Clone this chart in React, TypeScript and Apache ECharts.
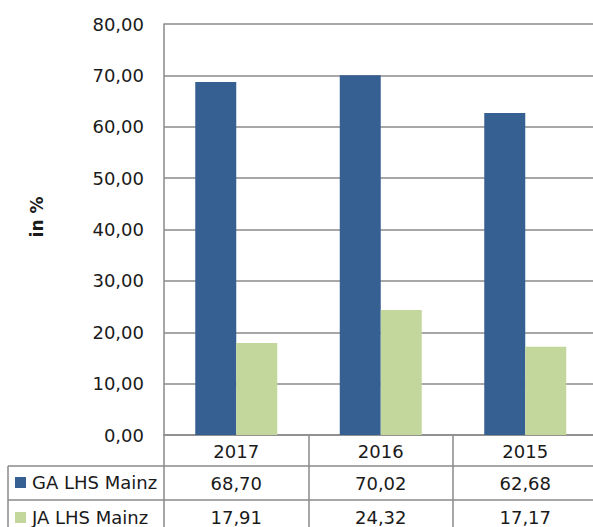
import React, { useEffect, useRef } from "react";
import * as echarts from "echarts";

const categories = ["2017", "2016", "2015"];
const gaValues = [68.7, 70.02, 62.68];
const jaValues = [17.91, 24.32, 17.17];
const seriesNames = ["GA LHS Mainz", "JA LHS Mainz"];
const yMin = 0;
const yMax = 80;
const yInterval = 10;

const fmt = (v: number) => v.toFixed(2).replace(".", ",");
const FONT = "DejaVu Sans";
const GRAY = "#8a8a8a";
const TXT = "#1a1a1a";

export default function App() {
  const ref = useRef<HTMLDivElement>(null);
  useEffect(() => {
    if (!ref.current) return;
    const chart = echarts.init(ref.current, undefined, { renderer: "svg" });
    const valueAxis = (data: number[], offset: number) => ({
      type: "category" as const,
      data: data.map(fmt),
      position: "bottom" as const,
      offset,
      axisLine: { show: false },
      axisTick: { show: false },
      axisLabel: {
        margin: 0,
        verticalAlign: "middle" as const,
        fontFamily: FONT,
        fontSize: 18,
        color: TXT,
      },
    });
    chart.setOption({
      animation: false,
      grid: {
        left: 164,
        top: 24,
        bottom: 92,
        right: -4.5,
        containLabel: false,
        outerBoundsMode: "none",
      },
      legend: {
        orient: "vertical",
        left: 15,
        top: 473.5,
        padding: 0,
        itemWidth: 11,
        itemHeight: 11,
        itemGap: 17,
        icon: "rect",
        textStyle: { fontFamily: FONT, fontSize: 18, lineHeight: 17, color: TXT, padding: [0, 0, 0, 1] },
        data: seriesNames,
      },
      xAxis: [
        {
          type: "category",
          data: categories,
          axisLine: { show: true, lineStyle: { color: GRAY, width: 1.5 } },
          axisTick: { show: true, length: 95, lineStyle: { color: GRAY, width: 1.5 } },
          axisLabel: {
            margin: 16,
            verticalAlign: "middle",
            fontFamily: FONT,
            fontSize: 18,
            color: TXT,
          },
        },
        valueAxis(gaValues, 48),
        valueAxis(jaValues, 82),
      ],
      yAxis: {
        type: "value",
        min: yMin,
        max: yMax,
        interval: yInterval,
        axisLine: { show: true, lineStyle: { color: GRAY, width: 1.5 } },
        axisTick: { show: false },
        splitLine: { show: true, lineStyle: { color: GRAY, width: 1.5 } },
        axisLabel: {
          margin: 20,
          fontFamily: FONT,
          fontSize: 18,
          color: TXT,
          formatter: (v: number) => fmt(v),
        },
      },
      series: [
        {
          name: seriesNames[0],
          type: "bar",
          data: gaValues,
          barWidth: 41,
          barGap: "0%",
          itemStyle: { color: "#376092" },
        },
        {
          name: seriesNames[1],
          type: "bar",
          data: jaValues,
          barWidth: 41,
          barGap: "0%",
          itemStyle: { color: "#c3d69b" },
        },
      ],
      graphic: [
        {
          type: "text",
          x: 37,
          y: 217,
          rotation: Math.PI / 2,
          style: {
            text: "in %",
            fontFamily: FONT,
            fontSize: 17,
            fontWeight: "bold",
            fill: TXT,
            align: "center",
            verticalAlign: "middle",
          },
        },
        { type: "line", shape: { x1: 8, y1: 466, x2: 600, y2: 466 }, style: { stroke: GRAY, lineWidth: 1.5 } },
        { type: "line", shape: { x1: 8, y1: 500, x2: 600, y2: 500 }, style: { stroke: GRAY, lineWidth: 1.5 } },
        { type: "line", shape: { x1: 8, y1: 466, x2: 8, y2: 530 }, style: { stroke: GRAY, lineWidth: 1.5 } },
      ],
    });
    return () => chart.dispose();
  }, []);
  return (
    <div
      ref={ref}
      style={{ position: "absolute", left: 0, top: 0, width: 593, height: 527 }}
    />
  );
}
